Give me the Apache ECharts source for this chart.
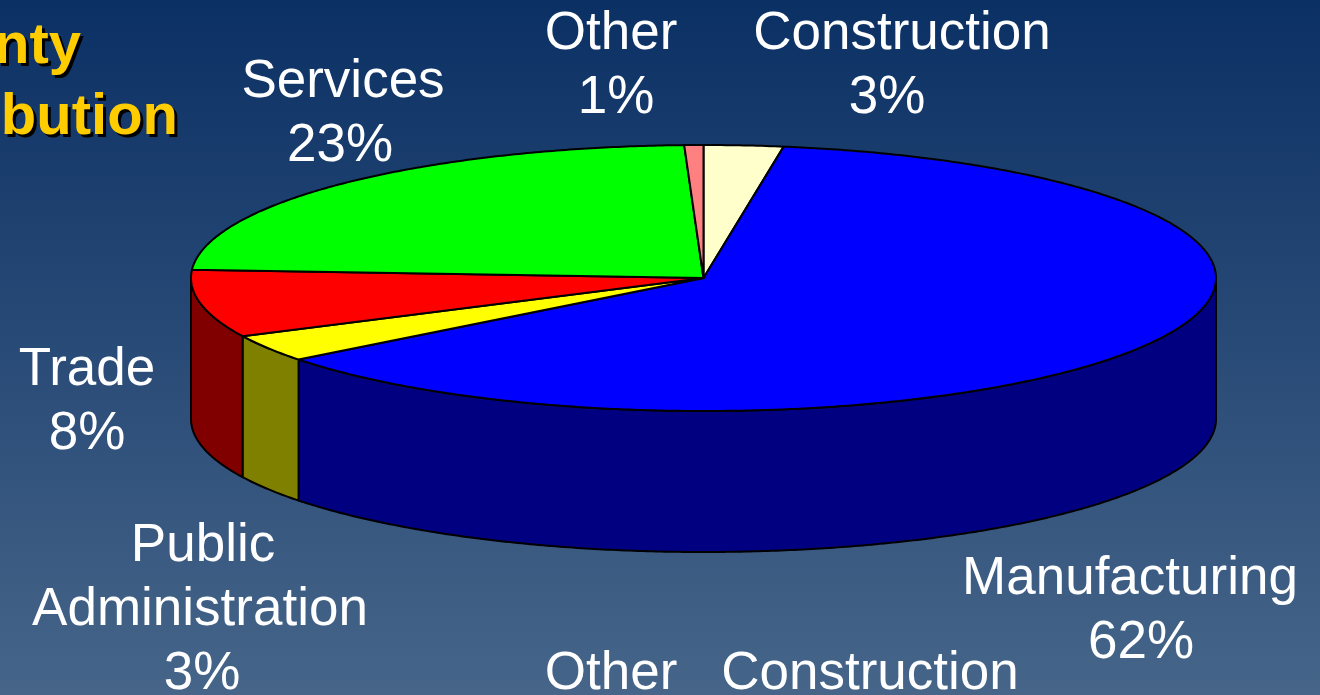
<!DOCTYPE html>
<html>
<head>
<meta charset="utf-8">
<title>Employment distribution</title>
<style>
html, body { margin: 0; padding: 0; background: #0b3064; }
#chart { width: 1320px; height: 695px; }
</style>
<script src="https://cdn.jsdelivr.net/npm/echarts@6/dist/echarts.min.js"></script>
</head>
<body>
<div id="chart"></div>
<script>
// slice order runs clockwise from 12 o'clock
const categories = ['Construction', 'Manufacturing', 'Public Administration', 'Trade', 'Services', 'Other']
const shares = [2.5, 62.0, 3.3, 8.2, 23.4, 0.6]
const topColors = ['#ffffcc', '#0000ff', '#ffff00', '#ff0000', '#00ff00', '#ff8080']
const sideColors = ['#808066', '#000080', '#808000', '#800000', '#008000', '#804040']

// text lines: [string, x centre, baseline y]
const labelLines = [
    ['Other', 611, 53], ['1%', 616, 117],
    ['Construction', 902, 53], ['3%', 887, 117],
    ['Services', 343, 101], ['23%', 340, 165],
    ['Trade', 87, 389], ['8%', 87, 453],
    ['Public', 203, 565], ['Administration', 200, 629], ['3%', 202, 693],
    ['Manufacturing', 1130, 598], ['62%', 1141, 662],
    ['Other', 611, 693], ['Construction', 870, 693]
]
const titleLines = [['nty', 81, 67], ['bution', 178, 138]]

// ellipse of the pie top and height of the wall
const cx = 703.5, cy = 278, rx = 512.5, ry = 133, depth = 141

const total = shares.reduce((a, b) => a + b, 0)
const startAngle = i => shares.slice(0, i).reduce((a, b) => a + b, 0) / total * 360
const rimPoint = (deg, dy) => {
    const r = deg * Math.PI / 180
    return [cx + rx * Math.sin(r), cy - ry * Math.cos(r) + dy]
}
const arcPoints = (from, to, dy) => {
    const pts = []
    const n = Math.max(2, Math.ceil((to - from) * 2))
    for (let k = 0; k <= n; k++) pts.push(rimPoint(from + (to - from) * k / n, dy))
    return pts
}
const edge = { stroke: '#000', lineWidth: 2, lineJoin: 'round' }

const renderTop = (params, api) => {
    const i = params.dataIndex
    const from = startAngle(i)
    const to = from + api.value(0) / total * 360
    return {
        type: 'polygon',
        shape: { points: [[cx, cy]].concat(arcPoints(from, to, 0)) },
        style: Object.assign({ fill: topColors[i] }, edge)
    }
}

// only the part facing the viewer (90 to 270 degrees) has a wall
const renderWall = (params, api) => {
    const i = params.dataIndex
    const from = Math.max(startAngle(i), 90)
    const to = Math.min(startAngle(i) + api.value(0) / total * 360, 270)
    if (to <= from) return null
    return {
        type: 'polygon',
        shape: { points: arcPoints(from, to, 0).concat(arcPoints(from, to, depth).reverse()) },
        style: Object.assign({ fill: sideColors[i] }, edge)
    }
}

// middle-anchored text, so the baseline is moved up by about a third of the size
const textItem = (line, size, extra) => ({
    type: 'text',
    x: line[1],
    y: line[2] - size * 0.345,
    silent: true,
    style: Object.assign({
        text: line[0],
        fill: '#fff',
        font: size + 'px "Liberation Sans", Arial, sans-serif',
        align: 'center',
        verticalAlign: 'middle'
    }, extra)
})

const titleItem = (line, color, offset) => ({
    type: 'text',
    x: line[1] + offset,
    y: line[2] - 20 + offset,
    silent: true,
    style: {
        text: line[0],
        fill: color,
        font: 'bold 58px "Liberation Sans", Arial, sans-serif',
        align: 'right',
        verticalAlign: 'middle'
    }
})

const chart = echarts.init(document.getElementById('chart'), null, { renderer: 'canvas' })
chart.setOption({
    animation: false,
    backgroundColor: new echarts.graphic.LinearGradient(0, 0, 0, 1, [
        { offset: 0, color: '#0b3064' },
        { offset: 1, color: '#466589' }
    ]),
    series: [
        { type: 'custom', coordinateSystem: 'none', silent: true, z: 1, renderItem: renderWall,
          data: shares.map((v, i) => ({ name: categories[i], value: [v] })) },
        { type: 'custom', coordinateSystem: 'none', silent: true, z: 2, renderItem: renderTop,
          data: shares.map((v, i) => ({ name: categories[i], value: [v] })) }
    ],
    graphic: {
        elements: [
            ...titleLines.map(l => titleItem(l, '#000', 3)),
            ...titleLines.map(l => titleItem(l, '#ffcc00', 0)),
            ...labelLines.map(l => textItem(l, 53, {}))
        ]
    }
})
</script>
</body>
</html>
